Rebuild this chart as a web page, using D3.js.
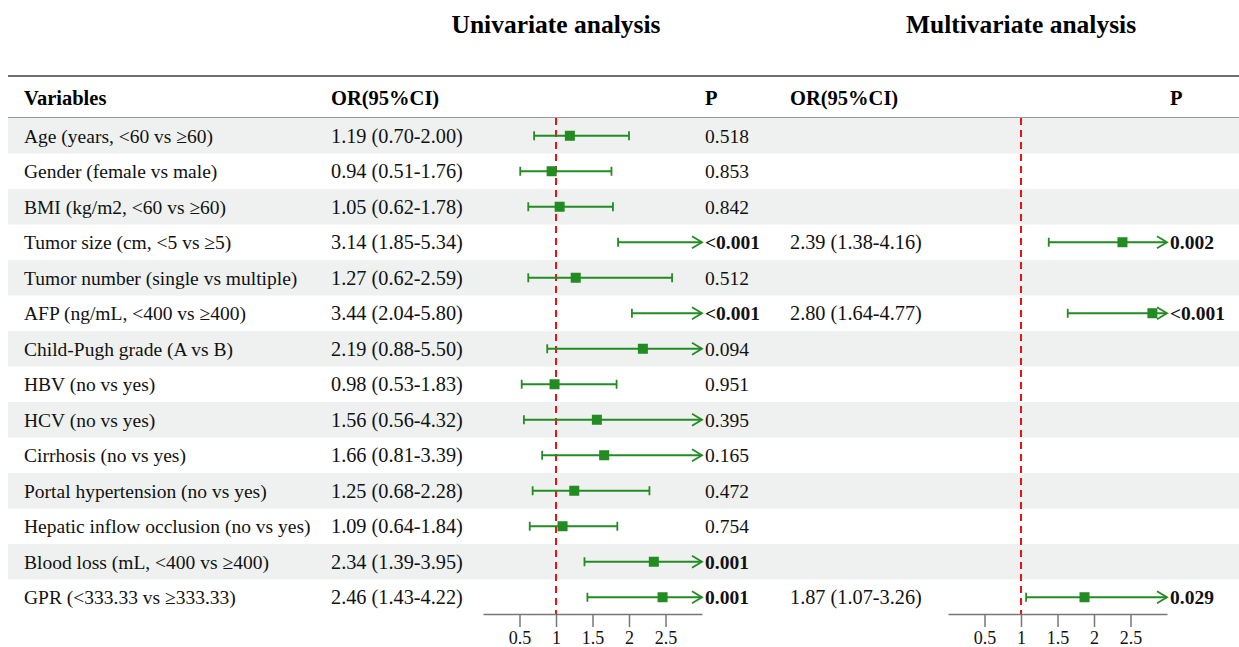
<!DOCTYPE html>
<html>
<head>
<meta charset="utf-8">
<script src="https://cdn.jsdelivr.net/npm/d3@7"></script>
<style>
  body { margin: 0; background: #fff; }
  svg { display: block; font-family: 'Liberation Serif', 'Times New Roman', serif; }
</style>
</head>
<body>
<div id="chart"></div>
<script>
// rows of the table
const variables = [
  'Age (years, <60 vs \u226560)',
  'Gender (female vs male)',
  'BMI (kg/m2, <60 vs \u226560)',
  'Tumor size (cm, <5 vs \u22655)',
  'Tumor number (single vs multiple)',
  'AFP (ng/mL, <400 vs \u2265400)',
  'Child-Pugh grade (A vs B)',
  'HBV (no vs yes)',
  'HCV (no vs yes)',
  'Cirrhosis (no vs yes)',
  'Portal hypertension (no vs yes)',
  'Hepatic inflow occlusion (no vs yes)',
  'Blood loss (mL, <400 vs \u2265400)',
  'GPR (<333.33 vs \u2265333.33)'
]

// univariate
const uniOR = [1.19, 0.94, 1.05, 3.14, 1.27, 3.44, 2.19, 0.98, 1.56, 1.66, 1.25, 1.09, 2.34, 2.46]
const uniLow = [0.70, 0.51, 0.62, 1.85, 0.62, 2.04, 0.88, 0.53, 0.56, 0.81, 0.68, 0.64, 1.39, 1.43]
const uniHigh = [2.00, 1.76, 1.78, 5.34, 2.59, 5.80, 5.50, 1.83, 4.32, 3.39, 2.28, 1.84, 3.95, 4.22]
const uniP = ['0.518', '0.853', '0.842', '<0.001', '0.512', '<0.001', '0.094', '0.951', '0.395', '0.165', '0.472', '0.754', '0.001', '0.001']
const uniSig = [false, false, false, true, false, true, false, false, false, false, false, false, true, true]

// multivariate (null = not entered)
const mulOR = [null, null, null, 2.39, null, 2.80, null, null, null, null, null, null, null, 1.87]
const mulLow = [null, null, null, 1.38, null, 1.64, null, null, null, null, null, null, null, 1.07]
const mulHigh = [null, null, null, 4.16, null, 4.77, null, null, null, null, null, null, null, 3.26]
const mulP = [null, null, null, '0.002', null, '<0.001', null, null, null, null, null, null, null, '0.029']

const ticks = [0.5, 1, 1.5, 2, 2.5]
const axisMax = 3

const width = 1239
const height = 647
const green = '#228b22'
const fmt = d3.format('.2f')
const fontSize = 19.5

const svg = d3.select('#chart').append('svg')
  .attr('width', width)
  .attr('height', height)

const y = d3.scaleBand().domain(d3.range(variables.length)).range([118, 615])
const xUni = d3.scaleLinear().domain([0, axisMax]).range([483, 702])
const xMul = d3.scaleLinear().domain([0, axisMax]).range([948, 1167])

// shaded rows
svg.append('g').selectAll('rect')
  .data(d3.range(variables.length).filter(i => i % 2 === 0))
  .join('rect')
  .attr('x', 8)
  .attr('width', width - 8)
  .attr('y', i => y(i))
  .attr('height', y.bandwidth())
  .attr('fill', '#eef1ef')

// rules
svg.append('line').attr('x1', 8).attr('x2', width).attr('y1', 76).attr('y2', 76)
  .attr('stroke', '#6e6e6e').attr('stroke-width', 2)
svg.append('line').attr('x1', 8).attr('x2', width).attr('y1', 117.5).attr('y2', 117.5)
  .attr('stroke', '#9a9a9a').attr('stroke-width', 1)

// titles
const titles = [
  { text: 'Univariate analysis', x: xUni(1) },
  { text: 'Multivariate analysis', x: xMul(1) }
]
svg.append('g').selectAll('text').data(titles).join('text')
  .attr('x', d => d.x)
  .attr('y', 33)
  .attr('text-anchor', 'middle')
  .attr('font-size', 25.5)
  .attr('font-weight', 'bold')
  .text(d => d.text)

// column headers
const headers = [
  { text: 'Variables', x: 24 },
  { text: 'OR(95%CI)', x: 331 },
  { text: 'P', x: 705 },
  { text: 'OR(95%CI)', x: 790 },
  { text: 'P', x: 1170 }
]
svg.append('g').selectAll('text').data(headers).join('text')
  .attr('x', d => d.x)
  .attr('y', 98)
  .attr('dy', '0.35em')
  .attr('font-size', 20.5)
  .attr('font-weight', 'bold')
  .text(d => d.text)

const rowY = i => y(i) + y.bandwidth() / 2

const body = svg.append('g').attr('font-size', fontSize).attr('fill', '#111')
body.selectAll('.var').data(variables).join('text')
  .attr('class', 'var')
  .attr('x', 24)
  .attr('y', (d, i) => rowY(i))
  .attr('dy', '0.35em')
  .text(d => d)
body.selectAll('.uor').data(uniOR).join('text')
  .attr('class', 'uor')
  .attr('x', 331)
  .attr('y', (d, i) => rowY(i))
  .attr('dy', '0.35em')
  .attr('font-size', 20.3)
  .text((d, i) => `${fmt(d)} (${fmt(uniLow[i])}-${fmt(uniHigh[i])})`)
body.selectAll('.up').data(uniP).join('text')
  .attr('class', 'up')
  .attr('x', 705)
  .attr('y', (d, i) => rowY(i))
  .attr('dy', '0.35em')
  .attr('font-weight', (d, i) => uniSig[i] ? 'bold' : 'normal')
  .text(d => d)

const mulIdx = d3.range(variables.length).filter(i => mulOR[i] !== null)
body.selectAll('.mor').data(mulIdx).join('text')
  .attr('class', 'mor')
  .attr('x', 790)
  .attr('y', i => rowY(i))
  .attr('dy', '0.35em')
  .attr('font-size', 20.3)
  .text(i => `${fmt(mulOR[i])} (${fmt(mulLow[i])}-${fmt(mulHigh[i])})`)
body.selectAll('.mp').data(mulIdx).join('text')
  .attr('class', 'mp')
  .attr('x', 1170)
  .attr('y', i => rowY(i))
  .attr('dy', '0.35em')
  .attr('font-weight', 'bold')
  .text(i => mulP[i])

function drawPanel(x, idx, est, low, high) {
  const g = svg.append('g')

  // reference line
  g.append('line')
    .attr('x1', x(1)).attr('x2', x(1))
    .attr('y1', 118).attr('y2', 614)
    .attr('stroke', '#ee1111')
    .attr('stroke-width', 2)
    .attr('stroke-dasharray', '7,5')

  const rows = g.selectAll('.ci').data(idx).join('g').attr('class', 'ci')
    .attr('transform', i => `translate(0,${rowY(i)})`)
    .attr('stroke', green)
    .attr('stroke-width', 1.8)
    .attr('fill', 'none')

  rows.append('line')
    .attr('x1', i => x(low[i]))
    .attr('x2', i => x(Math.min(high[i], axisMax)))
  // left cap
  rows.append('line')
    .attr('x1', i => x(low[i])).attr('x2', i => x(low[i]))
    .attr('y1', -4.5).attr('y2', 4.5)
  // right cap or arrow
  rows.filter(i => high[i] <= axisMax).append('line')
    .attr('x1', i => x(high[i])).attr('x2', i => x(high[i]))
    .attr('y1', -4.5).attr('y2', 4.5)
  rows.filter(i => high[i] > axisMax).append('path')
    .attr('d', `M${x(axisMax) - 10},-6L${x(axisMax)},0L${x(axisMax) - 10},6`)
  // point estimate
  rows.filter(i => est[i] <= axisMax).append('rect')
    .attr('x', i => x(est[i]) - 5)
    .attr('y', -5)
    .attr('width', 10)
    .attr('height', 10)
    .attr('fill', green)
    .attr('stroke', 'none')

  const axis = g.append('g')
    .attr('transform', 'translate(0,614)')
    .call(d3.axisBottom(x).tickValues(ticks).tickSize(13).tickSizeOuter(0).tickFormat(d => String(d)))
  axis.select('.domain').attr('stroke', '#777').attr('stroke-width', 1.5)
  axis.selectAll('.tick line').attr('stroke', '#777').attr('stroke-width', 1.5)
  axis.selectAll('.tick text')
    .attr('font-family', "'Liberation Serif', 'Times New Roman', serif")
    .attr('font-size', 18)
    .attr('fill', '#111')
    .attr('y', 17)
}

drawPanel(xUni, d3.range(variables.length), uniOR, uniLow, uniHigh)
drawPanel(xMul, mulIdx, mulOR, mulLow, mulHigh)
</script>
</body>
</html>
